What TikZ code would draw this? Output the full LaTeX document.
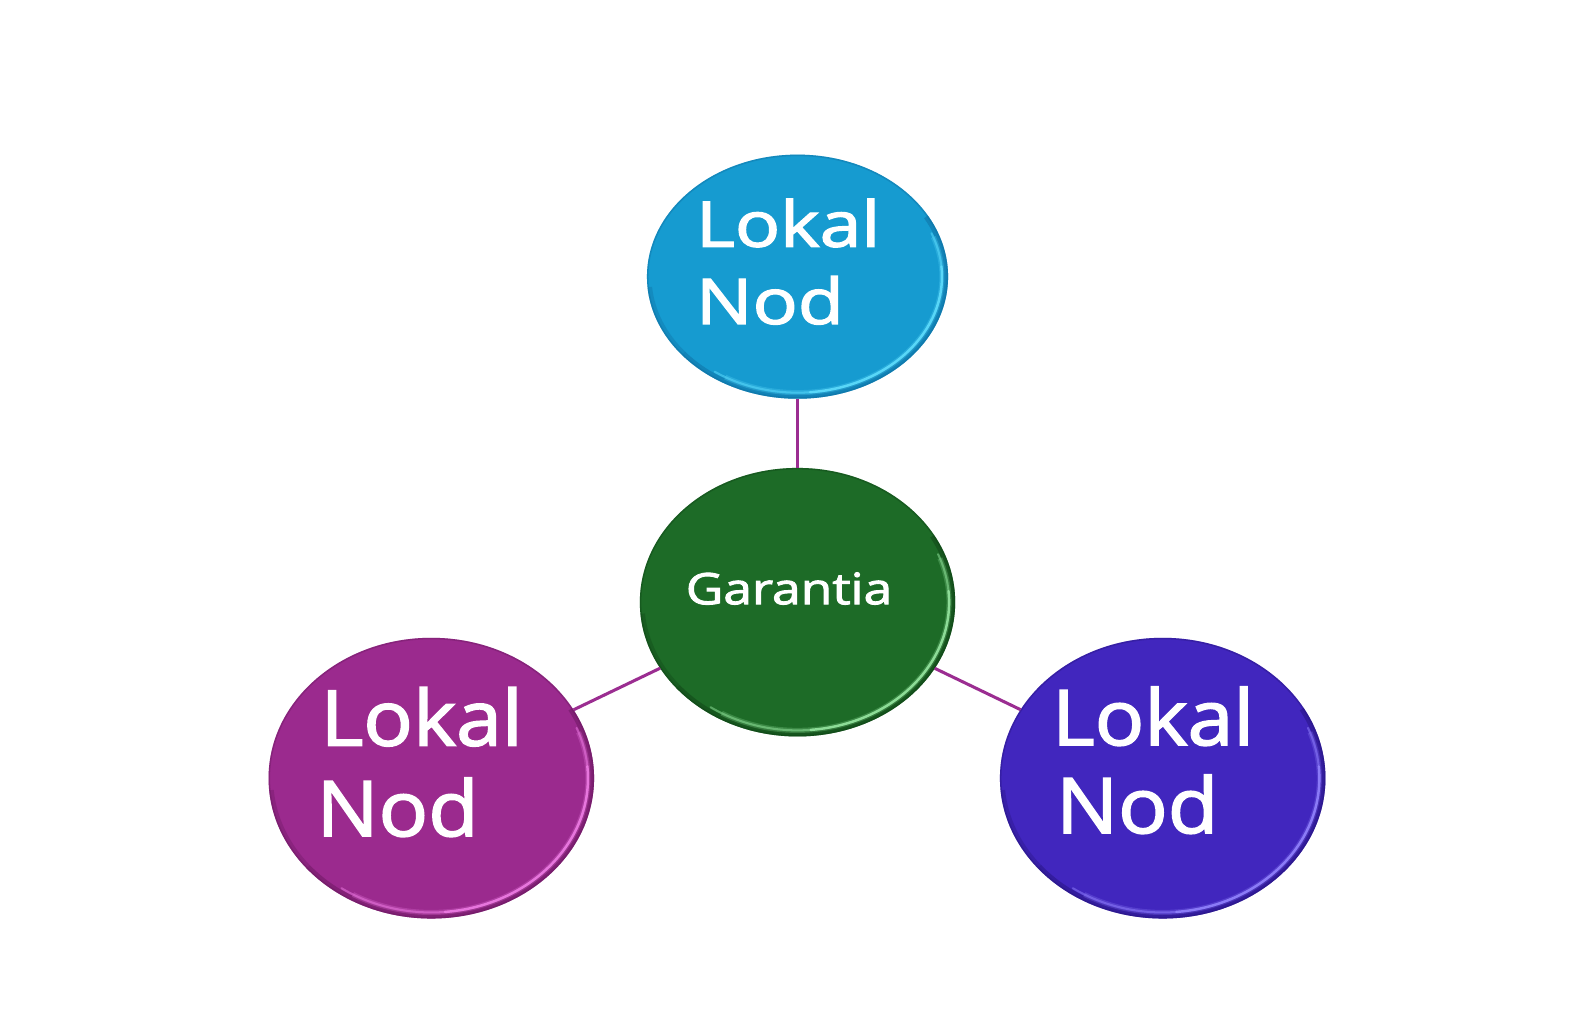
\documentclass[tikz,border=0pt]{standalone}
\usepackage{fontspec}
\usetikzlibrary{shapes.geometric,calc}
\newfontfamily\labelfont[FakeBold=2]{Open Sans}
\definecolor{cTop}{RGB}{22,155,208}
\definecolor{cTopL}{RGB}{95,220,252}
\definecolor{cTopD}{RGB}{14,105,155}
\definecolor{cGrn}{RGB}{29,107,39}
\definecolor{cGrnL}{RGB}{150,230,160}
\definecolor{cGrnD}{RGB}{14,62,20}
\definecolor{cPur}{RGB}{155,42,142}
\definecolor{cPurL}{RGB}{238,125,228}
\definecolor{cPurD}{RGB}{100,22,90}
\definecolor{cBlu}{RGB}{65,38,190}
\definecolor{cBluL}{RGB}{145,130,252}
\definecolor{cBluD}{RGB}{36,18,120}
\definecolor{cLine}{RGB}{155,45,145}
\tikzset{
  btnface/.style={ellipse, inner sep=0pt, outer sep=0pt},
  lbl/.style={anchor=base west, inner sep=0pt, text=white, font=\labelfont},
  link/.style={draw=cLine, line width=3pt},
}
% arc helper: #1 cx, #2 cy, #3 rx, #4 ry, #5 start, #6 end
\newcommand\rimarc[6]{($(#1,#2)+({(#3)*cos(#5)},{(#4)*sin(#5)})$)
      arc[start angle=#5, end angle=#6, x radius=#3, y radius=#4]}
% #1 name, #2 cx, #3 cy, #4 rx, #5 ry, #6 base, #7 light, #8 dark
\newcommand\mybutton[8]{%
  \node[btnface, minimum width=2*#4pt, minimum height=2*#5pt, fill=#6] (#1) at (#2,#3) {};
  \begin{scope}
    \clip (#2,#3) ellipse [x radius=#4, y radius=#5];
    \draw[#8, line width=3pt, opacity=.35] (#2,#3) ellipse [x radius=#4, y radius=#5];
    \draw[#8, line width=9pt, opacity=.45] \rimarc{#2}{#3}{#4}{#5}{-140}{30};
    \draw[#8, line width=9pt, opacity=.3] \rimarc{#2}{#3}{#4}{#5}{-175}{-140};
    \draw[#7, line width=5pt, opacity=.25] \rimarc{#2}{#3}{#4-6}{#5-6}{-120}{20};
    \draw[#7, line width=2.4pt, opacity=.9, line cap=round] \rimarc{#2}{#3}{#4-6}{#5-6}{-85}{5};
    \draw[#7, line width=2pt, opacity=.5, line cap=round] \rimarc{#2}{#3}{#4-6}{#5-6}{-125}{-85};
    \draw[#7, line width=2pt, opacity=.5, line cap=round] \rimarc{#2}{#3}{#4-6}{#5-6}{5}{22};
  \end{scope}}
\begin{document}
\begin{tikzpicture}[x=1pt,y=1pt]
\useasboundingbox[fill=white] (0,0) rectangle (1568,1000);
\mybutton{top}{784}{728}{148}{120}{cTop}{cTopL}{cTopD}
\mybutton{mid}{784}{408}{155}{132}{cGrn}{cGrnL}{cGrnD}
\mybutton{lft}{424}{235}{160}{138}{cPur}{cPurL}{cPurD}
\mybutton{rgt}{1143}{235}{160}{138}{cBlu}{cBluL}{cBluD}
\draw[link] (top) -- (mid);
\draw[link] (mid) -- (lft);
\draw[link] (mid) -- (rgt);
% labels
\node[lbl] (topL1) at (684,757.5) {\fontsize{62}{62}\selectfont\scalebox{1.19}[1]{Lokal}};
\node[lbl] (topL2) at (684,681.5) {\fontsize{62}{62}\selectfont\scalebox{1.19}[1]{Nod}};
\node[lbl] (midL) at (674,406) {\fontsize{42.6}{42.6}\selectfont\scalebox{1.19}[1]{Garantia}};
\node[lbl] (lftL1) at (315,267) {\fontsize{75.6}{75.6}\selectfont\scalebox{1.07}[1]{Lokal}};
\node[lbl] (lftL2) at (311,178) {\fontsize{75.6}{75.6}\selectfont\scalebox{1.07}[1]{Nod}};
\node[lbl] (rgtL1) at (1034,267.5) {\fontsize{75.6}{75.6}\selectfont\scalebox{1.07}[1]{Lokal}};
\node[lbl] (rgtL2) at (1038,181) {\fontsize{75.6}{75.6}\selectfont\scalebox{1.07}[1]{Nod}};
\end{tikzpicture}
\end{document}
